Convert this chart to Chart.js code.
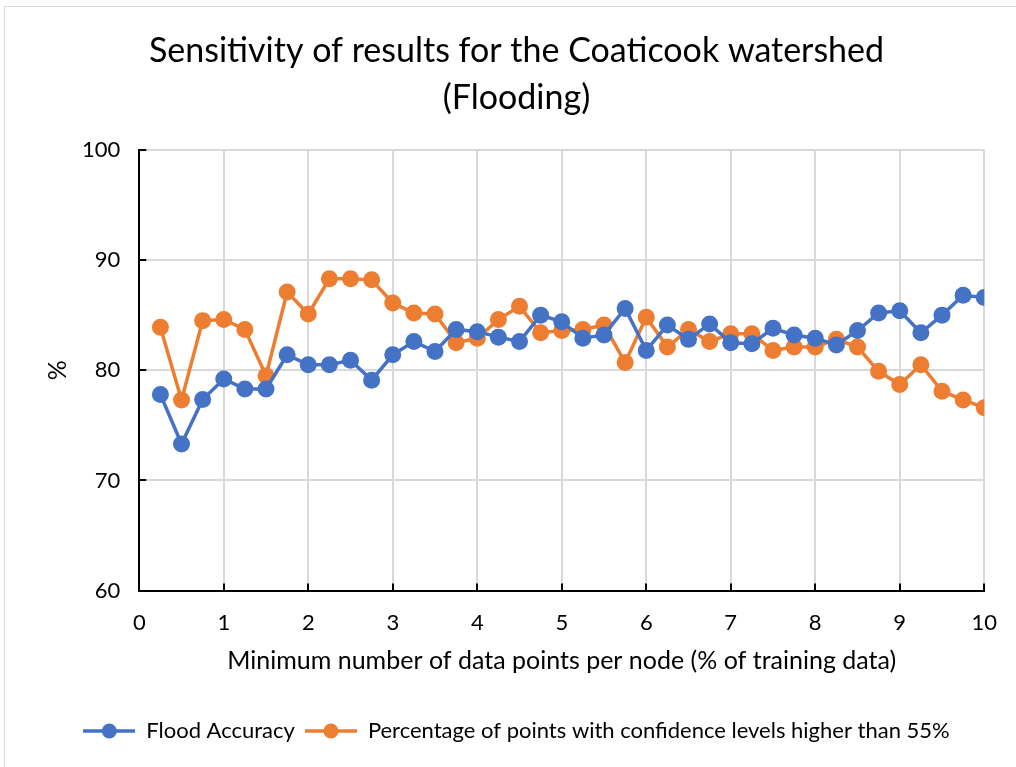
<!DOCTYPE html>
<html>
<head>
<meta charset="utf-8">
<script src="https://cdn.jsdelivr.net/npm/chart.js@4/dist/chart.umd.min.js"></script>
<style>
html, body { margin: 0; background: #fff; }
#frame { position: absolute; left: 4px; top: 6px; width: 1100px; height: 900px; border: 1px solid #d9d9d9; }
#c { position: absolute; left: 0; top: 0; }
</style>
</head>
<body>
<div id="frame"></div>
<canvas id="c" width="1016" height="767"></canvas>
<script>
const xValues = [0.25, 0.5, 0.75, 1, 1.25, 1.5, 1.75, 2, 2.25, 2.5, 2.75, 3, 3.25, 3.5, 3.75, 4,
    4.25, 4.5, 4.75, 5, 5.25, 5.5, 5.75, 6, 6.25, 6.5, 6.75, 7, 7.25, 7.5, 7.75, 8,
    8.25, 8.5, 8.75, 9, 9.25, 9.5, 9.75, 10];

const floodAccuracy = [77.8, 73.3, 77.35, 79.2, 78.3, 78.3, 81.4, 80.5, 80.5, 80.9, 79.1, 81.4,
    82.6, 81.7, 83.7, 83.5, 83.0, 82.6, 85.0, 84.4, 82.9, 83.2, 85.6, 81.8, 84.1, 82.8, 84.2,
    82.5, 82.4, 83.8, 83.2, 82.9, 82.3, 83.6, 85.2, 85.4, 83.4, 85.0, 86.8, 86.6];

const confidencePct = [83.9, 77.3, 84.5, 84.6, 83.7, 79.5, 87.1, 85.1, 88.3, 88.3, 88.2, 86.1,
    85.2, 85.1, 82.5, 82.9, 84.6, 85.8, 83.4, 83.6, 83.7, 84.1, 80.7, 84.8, 82.1, 83.7, 82.6,
    83.3, 83.3, 81.8, 82.1, 82.1, 82.8, 82.1, 79.9, 78.7, 80.5, 78.1, 77.3, 76.6];

const seriesNames = ['Flood Accuracy', 'Percentage of points with confidence levels higher than 55%'];
const seriesColors = ['#4472c4', '#ed7d31'];
const chartTitle = ['Sensitivity of results for the Coaticook watershed', '(Flooding)'];
const xTitle = 'Minimum number of data points per node (% of training data)';
const yTitle = '%';

const FONT = 'Lato, "Open Sans", sans-serif';

// legend marker: a short line with a dot on it, like the spreadsheet legend
function legendMarker(color) {
    const m = document.createElement('canvas');
    m.width = 52; m.height = 18;
    const g = m.getContext('2d');
    g.strokeStyle = color;
    g.lineWidth = 3.5;
    g.beginPath(); g.moveTo(0, 9); g.lineTo(52, 9); g.stroke();
    g.fillStyle = color;
    g.beginPath(); g.arc(26, 9, 7.5, 0, Math.PI * 2); g.fill();
    return m;
}

function toPoints(ys) {
    return ys.map((y, i) => ({ x: xValues[i], y: y }));
}

// short black tick marks pointing into the plot, at each tick of both axes
const insideTicks = {
    id: 'insideTicks',
    beforeDatasetsDraw(chart) {
        const ctx = chart.ctx;
        const xs = chart.scales.x, ys = chart.scales.y;
        const len = 7;
        ctx.save();
        ctx.strokeStyle = '#000';
        ctx.lineWidth = 2;
        ctx.beginPath();
        xs.ticks.forEach(t => {
            const px = Math.round(xs.getPixelForValue(t.value));
            ctx.moveTo(px, xs.top);
            ctx.lineTo(px, xs.top - len);
        });
        ys.ticks.forEach(t => {
            const py = Math.round(ys.getPixelForValue(t.value));
            ctx.moveTo(ys.right, py);
            ctx.lineTo(ys.right + len, py);
        });
        ctx.stroke();
        ctx.restore();
    }
};

const datasets = [floodAccuracy, confidencePct].map((ys, i) => ({
    label: seriesNames[i],
    data: toPoints(ys),
    borderColor: seriesColors[i],
    backgroundColor: seriesColors[i],
    borderWidth: 3.5,
    pointRadius: 8.5,
    pointHoverRadius: 8.5,
    pointBorderWidth: 0,
    pointStyle: 'circle',
    tension: 0
}));

new Chart(document.getElementById('c'), {
    type: 'line',
    data: { datasets: datasets },
    plugins: [insideTicks],
    options: {
        responsive: false,
        animation: false,
        layout: { padding: { left: 43, right: 26, top: 0, bottom: 15 } },
        plugins: {
            title: {
                display: true,
                text: chartTitle,
                color: '#000',
                font: { family: FONT, size: 34, weight: 'normal', lineHeight: 1.38 },
                padding: { top: 28, bottom: 28 }
            },
            legend: {
                position: 'bottom',
                labels: {
                    color: '#000',
                    font: { family: FONT, size: 22 },
                    usePointStyle: true,
                    pointStyleWidth: 52,
                    padding: 10,
                    generateLabels: chart => chart.data.datasets.map((ds, i) => ({
                        text: ds.label,
                        pointStyle: legendMarker(seriesColors[i]),
                        fillStyle: seriesColors[i],
                        strokeStyle: seriesColors[i],
                        lineWidth: 0,
                        fontColor: '#000',
                        datasetIndex: i
                    }))
                }
            },
            tooltip: { enabled: false }
        },
        scales: {
            x: {
                type: 'linear',
                min: 0,
                max: 10,
                ticks: { stepSize: 1, color: '#000', font: { family: FONT, size: 22 }, padding: 19 },
                grid: { color: '#d9d9d9', lineWidth: 2, drawTicks: false },
                border: { color: '#000', width: 2 },
                title: { display: true, text: xTitle, color: '#000', font: { family: FONT, size: 25 }, padding: { top: -9, bottom: 34 } }
            },
            y: {
                min: 60,
                max: 100,
                ticks: { stepSize: 10, color: '#000', font: { family: FONT, size: 22 }, padding: 19 },
                grid: { color: '#d9d9d9', lineWidth: 2, drawTicks: false },
                border: { color: '#000', width: 2 },
                title: { display: true, text: yTitle, color: '#000', font: { family: FONT, size: 25 }, padding: { top: 0, bottom: -10 } }
            }
        }
    }
});
</script>
</body>
</html>
